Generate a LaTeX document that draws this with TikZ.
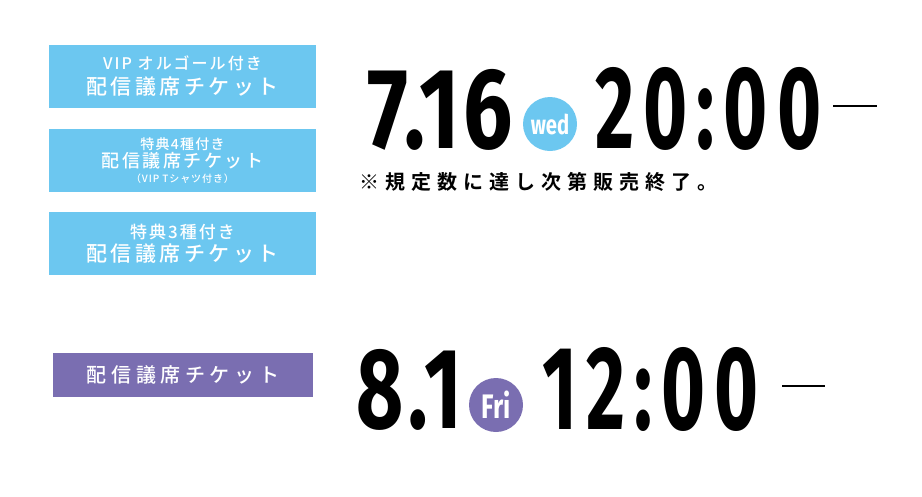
\documentclass[tikz,border=0pt]{standalone}
\usepackage{fontspec}
\newfontfamily\jpfont{Noto Sans CJK JP Medium}
\newfontfamily\jpbold{Noto Sans CJK JP Bold}
\newfontfamily\datefont{Fira Sans Bold}
\newfontfamily\dayfont{Fira Sans Bold}[FakeStretch=0.75]
\definecolor{skyblue}{HTML}{6CC7F0}
\definecolor{lavender}{HTML}{7A6EB1}
\newcommand{\jpsize}[2]{\fontsize{#1}{#1}\selectfont\addfontfeatures{LetterSpace=#2}}
% big figures squeezed to a given width and height
\newcommand{\bigfig}[4]{\resizebox*{#1}{#2}{\datefont\addfontfeatures{LetterSpace=#3}#4}}
\tikzset{
  ticket/.style={fill=#1, text=white, font=\jpfont, align=center,
    minimum width=267pt, minimum height=63pt, inner sep=0pt},
  ticket/.default=skyblue,
  daycircle/.style={circle, fill=#1, text=white, minimum size=54pt, inner sep=0pt},
  bigdate/.style={anchor=base west, inner sep=0pt},
  endash/.style={line width=1.2pt}
}
\begin{document}
\begin{tikzpicture}[x=1pt, y=-1pt]
  \useasboundingbox (0,0) rectangle (922,496);
  % tickets on sale 7.16
  \node[ticket] (vip) at (182.5,76.5)
    {{\jpsize{16}{13}VIP オルゴール付き}\\[5pt]{\jpsize{21}{17}配信議席チケット}};
  \node[ticket] (tshirt) at (182.5,160.5)
    {{\jpsize{14}{9}特典4種付き}\\[1pt]{\jpsize{18}{14}配信議席チケット}\\[3pt]{\jpsize{10}{9}（VIP Tシャツ付き）}};
  \node[ticket] (bonus) at (182.5,243.5)
    {{\jpsize{17}{12}特典3種付き}\\[3pt]{\jpsize{21}{17}配信議席チケット}};
  \node[bigdate] (dayA) at (367,148) {\bigfig{146pt}{81pt}{4}{7.16}};
  \node[daycircle=skyblue] (wed) at (550,124) {\dayfont\fontsize{27}{27}\selectfont wed};
  \node[bigdate] (timeA) at (595,148) {\bigfig{226pt}{83pt}{12}{20:00}};
  \coordinate (dashA1) at (833,106);
  \coordinate (dashA2) at (877,106);
  \draw[endash] (dashA1) -- (dashA2);
  \node[anchor=west, inner sep=0pt, font=\jpbold] (note) at (359,182)
    {\jpsize{20}{30}※規定数に達し次第販売終了。};
  % tickets on sale 8.1
  \node[ticket=lavender, minimum width=260pt, minimum height=44pt] (basic) at (183,375)
    {\jpsize{20}{23}配信議席チケット};
  \node[bigdate] (dayB) at (356,428) {\bigfig{106pt}{81pt}{6}{8.1}};
  \node[daycircle=lavender] (fri) at (496,405) {\dayfont\fontsize{34}{34}\selectfont Fri};
  \node[bigdate] (timeB) at (542,429) {\bigfig{216pt}{84pt}{12}{12:00}};
  \coordinate (dashB1) at (782,386);
  \coordinate (dashB2) at (825,386);
  \draw[endash] (dashB1) -- (dashB2);
\end{tikzpicture}
\end{document}
